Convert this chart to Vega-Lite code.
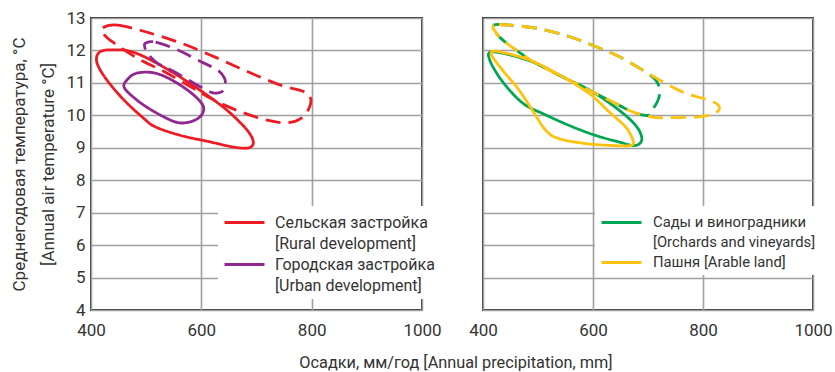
{
  "$schema": "https://vega.github.io/schema/vega-lite/v6.json",
  "padding": {"left": 9, "top": 8, "right": 0, "bottom": 0},
  "background": "white",
  "bounds": "flush",
  "spacing": 61,
  "config": {
    "font": "Roboto",
    "view": {"stroke": "#333333", "strokeWidth": 2},
    "axis": {
      "grid": true, "gridColor": "#a0a0a0", "gridWidth": 1.6,
      "domain": false, "ticks": false, "labelFlush": false,
      "labelFont": "Roboto", "labelFontSize": 17, "labelColor": "#333333",
      "titleFont": "Roboto", "titleFontSize": 17, "titleFontWeight": "normal", "titleColor": "#333333"
    },
    "legend": {
      "labelFont": "Roboto", "labelFontSize": 16, "labelColor": "#333333",
      "labelLimit": 400, "fillColor": "white", "symbolType": "M-1,0L3,0", "symbolSize": 400,
      "symbolStrokeWidth": 3, "labelOffset": 29, "rowPadding": 1, "labelBaseline": "middle", "padding": 5
    }
  },
  "resolve": {"scale": {"color": "independent", "strokeDash": "independent"}, "legend": {"color": "independent"}},
  "datasets": {
    "left": [
      {"cat": "Сельская застройка", "kind": "solid", "i": 0, "x": 417.5, "y": 11.97},
      {"cat": "Сельская застройка", "kind": "solid", "i": 1, "x": 447.7, "y": 12.02},
      {"cat": "Сельская застройка", "kind": "solid", "i": 2, "x": 471.9, "y": 11.97},
      {"cat": "Сельская застройка", "kind": "solid", "i": 3, "x": 502.1, "y": 11.76},
      {"cat": "Сельская застройка", "kind": "solid", "i": 4, "x": 550.4, "y": 11.30},
      {"cat": "Сельская застройка", "kind": "solid", "i": 5, "x": 592.7, "y": 10.83},
      {"cat": "Сельская застройка", "kind": "solid", "i": 6, "x": 622.9, "y": 10.47},
      {"cat": "Сельская застройка", "kind": "solid", "i": 7, "x": 653.1, "y": 10.06},
      {"cat": "Сельская застройка", "kind": "solid", "i": 8, "x": 683.3, "y": 9.54},
      {"cat": "Сельская застройка", "kind": "solid", "i": 9, "x": 694.2, "y": 9.18},
      {"cat": "Сельская застройка", "kind": "solid", "i": 10, "x": 686.4, "y": 9.00},
      {"cat": "Сельская застройка", "kind": "solid", "i": 11, "x": 659.2, "y": 9.02},
      {"cat": "Сельская застройка", "kind": "solid", "i": 12, "x": 610.9, "y": 9.20},
      {"cat": "Сельская застройка", "kind": "solid", "i": 13, "x": 562.5, "y": 9.38},
      {"cat": "Сельская застройка", "kind": "solid", "i": 14, "x": 517.2, "y": 9.64},
      {"cat": "Сельская застройка", "kind": "solid", "i": 15, "x": 496.1, "y": 9.90},
      {"cat": "Сельская застройка", "kind": "solid", "i": 16, "x": 459.9, "y": 10.47},
      {"cat": "Сельская застройка", "kind": "solid", "i": 17, "x": 426.6, "y": 11.14},
      {"cat": "Сельская застройка", "kind": "solid", "i": 18, "x": 410.3, "y": 11.66},

      {"cat": "Сельская застройка", "kind": "dashed", "i": 0, "x": 420.5, "y": 12.69},
      {"cat": "Сельская застройка", "kind": "dashed", "i": 1, "x": 447.7, "y": 12.78},
      {"cat": "Сельская застройка", "kind": "dashed", "i": 2, "x": 502.0, "y": 12.56},
      {"cat": "Сельская застройка", "kind": "dashed", "i": 3, "x": 562.5, "y": 12.23},
      {"cat": "Сельская застройка", "kind": "dashed", "i": 4, "x": 622.9, "y": 11.81},
      {"cat": "Сельская застройка", "kind": "dashed", "i": 5, "x": 683.3, "y": 11.35},
      {"cat": "Сельская застройка", "kind": "dashed", "i": 6, "x": 743.6, "y": 10.93},
      {"cat": "Сельская застройка", "kind": "dashed", "i": 7, "x": 785.9, "y": 10.73},
      {"cat": "Сельская застройка", "kind": "dashed", "i": 8, "x": 798.0, "y": 10.52},
      {"cat": "Сельская застройка", "kind": "dashed", "i": 9, "x": 795.0, "y": 10.21},
      {"cat": "Сельская застройка", "kind": "dashed", "i": 10, "x": 780.0, "y": 9.90},
      {"cat": "Сельская застройка", "kind": "dashed", "i": 11, "x": 755.8, "y": 9.77},
      {"cat": "Сельская застройка", "kind": "dashed", "i": 12, "x": 719.5, "y": 9.85},
      {"cat": "Сельская застройка", "kind": "dashed", "i": 13, "x": 671.2, "y": 10.11},
      {"cat": "Сельская застройка", "kind": "dashed", "i": 14, "x": 622.9, "y": 10.47},
      {"cat": "Сельская застройка", "kind": "dashed", "i": 15, "x": 580.7, "y": 10.88},
      {"cat": "Сельская застройка", "kind": "dashed", "i": 16, "x": 532.3, "y": 11.35},
      {"cat": "Сельская застройка", "kind": "dashed", "i": 17, "x": 484.0, "y": 11.76},
      {"cat": "Сельская застройка", "kind": "dashed", "i": 18, "x": 441.7, "y": 12.23},
      {"cat": "Сельская застройка", "kind": "dashed", "i": 19, "x": 423.6, "y": 12.49},

      {"cat": "Городская застройка", "kind": "solid", "i": 0, "x": 462.8, "y": 11.04},
      {"cat": "Городская застройка", "kind": "solid", "i": 1, "x": 477.9, "y": 11.27},
      {"cat": "Городская застройка", "kind": "solid", "i": 2, "x": 502.1, "y": 11.33},
      {"cat": "Городская застройка", "kind": "solid", "i": 3, "x": 526.2, "y": 11.25},
      {"cat": "Городская застройка", "kind": "solid", "i": 4, "x": 556.5, "y": 10.99},
      {"cat": "Городская застройка", "kind": "solid", "i": 5, "x": 586.6, "y": 10.62},
      {"cat": "Городская застройка", "kind": "solid", "i": 6, "x": 603.5, "y": 10.28},
      {"cat": "Городская застройка", "kind": "solid", "i": 7, "x": 600.0, "y": 10.00},
      {"cat": "Городская застройка", "kind": "solid", "i": 8, "x": 583.6, "y": 9.82},
      {"cat": "Городская застройка", "kind": "solid", "i": 9, "x": 559.5, "y": 9.77},
      {"cat": "Городская застройка", "kind": "solid", "i": 10, "x": 532.3, "y": 9.95},
      {"cat": "Городская застройка", "kind": "solid", "i": 11, "x": 496.0, "y": 10.31},
      {"cat": "Городская застройка", "kind": "solid", "i": 12, "x": 468.9, "y": 10.68},
      {"cat": "Городская застройка", "kind": "solid", "i": 13, "x": 459.9, "y": 10.88},

      {"cat": "Городская застройка", "kind": "dashed", "i": 0, "x": 499.0, "y": 12.23},
      {"cat": "Городская застройка", "kind": "dashed", "i": 1, "x": 517.2, "y": 12.26},
      {"cat": "Городская застройка", "kind": "dashed", "i": 2, "x": 556.5, "y": 12.02},
      {"cat": "Городская застройка", "kind": "dashed", "i": 3, "x": 598.8, "y": 11.66},
      {"cat": "Городская застройка", "kind": "dashed", "i": 4, "x": 629.0, "y": 11.40},
      {"cat": "Городская застройка", "kind": "dashed", "i": 5, "x": 642.2, "y": 11.14},
      {"cat": "Городская застройка", "kind": "dashed", "i": 6, "x": 642.8, "y": 10.86},
      {"cat": "Городская застройка", "kind": "dashed", "i": 7, "x": 635.0, "y": 10.71},
      {"cat": "Городская застройка", "kind": "dashed", "i": 8, "x": 619.9, "y": 10.70},
      {"cat": "Городская застройка", "kind": "dashed", "i": 9, "x": 592.7, "y": 10.93},
      {"cat": "Городская застройка", "kind": "dashed", "i": 10, "x": 550.4, "y": 11.35},
      {"cat": "Городская застройка", "kind": "dashed", "i": 11, "x": 520.2, "y": 11.61},
      {"cat": "Городская застройка", "kind": "dashed", "i": 12, "x": 502.1, "y": 11.92},
      {"cat": "Городская застройка", "kind": "dashed", "i": 13, "x": 497.3, "y": 12.12}
    ],
    "right": [
      {"cat": "Сады и виноградники", "kind": "solid", "i": 0, "x": 413.9, "y": 11.95},
      {"cat": "Сады и виноградники", "kind": "solid", "i": 1, "x": 447.3, "y": 11.87},
      {"cat": "Сады и виноградники", "kind": "solid", "i": 2, "x": 495.8, "y": 11.61},
      {"cat": "Сады и виноградники", "kind": "solid", "i": 3, "x": 544.2, "y": 11.19},
      {"cat": "Сады и виноградники", "kind": "solid", "i": 4, "x": 598.8, "y": 10.73},
      {"cat": "Сады и виноградники", "kind": "solid", "i": 5, "x": 647.3, "y": 10.16},
      {"cat": "Сады и виноградники", "kind": "solid", "i": 6, "x": 677.6, "y": 9.69},
      {"cat": "Сады и виноградники", "kind": "solid", "i": 7, "x": 688.5, "y": 9.33},
      {"cat": "Сады и виноградники", "kind": "solid", "i": 8, "x": 684.9, "y": 9.13},
      {"cat": "Сады и виноградники", "kind": "solid", "i": 9, "x": 671.5, "y": 9.07},
      {"cat": "Сады и виноградники", "kind": "solid", "i": 10, "x": 647.3, "y": 9.18},
      {"cat": "Сады и виноградники", "kind": "solid", "i": 11, "x": 604.8, "y": 9.38},
      {"cat": "Сады и виноградники", "kind": "solid", "i": 12, "x": 556.4, "y": 9.69},
      {"cat": "Сады и виноградники", "kind": "solid", "i": 13, "x": 507.9, "y": 10.06},
      {"cat": "Сады и виноградники", "kind": "solid", "i": 14, "x": 477.6, "y": 10.31},
      {"cat": "Сады и виноградники", "kind": "solid", "i": 15, "x": 453.4, "y": 10.68},
      {"cat": "Сады и виноградники", "kind": "solid", "i": 16, "x": 429.1, "y": 11.19},
      {"cat": "Сады и виноградники", "kind": "solid", "i": 17, "x": 412.1, "y": 11.71},

      {"cat": "Сады и виноградники", "kind": "dashed", "i": 0, "x": 418.2, "y": 12.74},
      {"cat": "Сады и виноградники", "kind": "dashed", "i": 1, "x": 429.1, "y": 12.80},
      {"cat": "Сады и виноградники", "kind": "dashed", "i": 2, "x": 495.8, "y": 12.69},
      {"cat": "Сады и виноградники", "kind": "dashed", "i": 3, "x": 556.4, "y": 12.43},
      {"cat": "Сады и виноградники", "kind": "dashed", "i": 4, "x": 604.8, "y": 12.12},
      {"cat": "Сады и виноградники", "kind": "dashed", "i": 5, "x": 647.3, "y": 11.81},
      {"cat": "Сады и виноградники", "kind": "dashed", "i": 6, "x": 689.7, "y": 11.40},
      {"cat": "Сады и виноградники", "kind": "dashed", "i": 7, "x": 713.9, "y": 11.09},
      {"cat": "Сады и виноградники", "kind": "dashed", "i": 8, "x": 721.2, "y": 10.78},
      {"cat": "Сады и виноградники", "kind": "dashed", "i": 9, "x": 718.8, "y": 10.49},
      {"cat": "Сады и виноградники", "kind": "dashed", "i": 10, "x": 710.9, "y": 10.24},
      {"cat": "Сады и виноградники", "kind": "dashed", "i": 11, "x": 701.8, "y": 10.00},
      {"cat": "Сады и виноградники", "kind": "dashed", "i": 12, "x": 671.5, "y": 10.11},
      {"cat": "Сады и виноградники", "kind": "dashed", "i": 13, "x": 629.1, "y": 10.47},
      {"cat": "Сады и виноградники", "kind": "dashed", "i": 14, "x": 586.7, "y": 10.83},
      {"cat": "Сады и виноградники", "kind": "dashed", "i": 15, "x": 544.2, "y": 11.19},
      {"cat": "Сады и виноградники", "kind": "dashed", "i": 16, "x": 495.8, "y": 11.61},
      {"cat": "Сады и виноградники", "kind": "dashed", "i": 17, "x": 459.4, "y": 12.02},
      {"cat": "Сады и виноградники", "kind": "dashed", "i": 18, "x": 432.1, "y": 12.38},
      {"cat": "Сады и виноградники", "kind": "dashed", "i": 19, "x": 420.0, "y": 12.64},

      {"cat": "Пашня [Arable land]", "kind": "solid", "i": 0, "x": 417.0, "y": 11.97},
      {"cat": "Пашня [Arable land]", "kind": "solid", "i": 1, "x": 435.2, "y": 11.94},
      {"cat": "Пашня [Arable land]", "kind": "solid", "i": 2, "x": 483.6, "y": 11.71},
      {"cat": "Пашня [Arable land]", "kind": "solid", "i": 3, "x": 538.2, "y": 11.25},
      {"cat": "Пашня [Arable land]", "kind": "solid", "i": 4, "x": 592.7, "y": 10.68},
      {"cat": "Пашня [Arable land]", "kind": "solid", "i": 5, "x": 629.1, "y": 10.11},
      {"cat": "Пашня [Arable land]", "kind": "solid", "i": 6, "x": 659.4, "y": 9.64},
      {"cat": "Пашня [Arable land]", "kind": "solid", "i": 7, "x": 672.7, "y": 9.23},
      {"cat": "Пашня [Arable land]", "kind": "solid", "i": 8, "x": 668.5, "y": 9.07},
      {"cat": "Пашня [Arable land]", "kind": "solid", "i": 9, "x": 635.1, "y": 9.07},
      {"cat": "Пашня [Arable land]", "kind": "solid", "i": 10, "x": 586.7, "y": 9.13},
      {"cat": "Пашня [Arable land]", "kind": "solid", "i": 11, "x": 538.2, "y": 9.28},
      {"cat": "Пашня [Arable land]", "kind": "solid", "i": 12, "x": 514.0, "y": 9.54},
      {"cat": "Пашня [Arable land]", "kind": "solid", "i": 13, "x": 489.7, "y": 10.16},
      {"cat": "Пашня [Arable land]", "kind": "solid", "i": 14, "x": 465.5, "y": 10.78},
      {"cat": "Пашня [Arable land]", "kind": "solid", "i": 15, "x": 435.2, "y": 11.40},
      {"cat": "Пашня [Arable land]", "kind": "solid", "i": 16, "x": 417.0, "y": 11.81},

      {"cat": "Пашня [Arable land]", "kind": "dashed", "i": 0, "x": 418.2, "y": 12.74},
      {"cat": "Пашня [Arable land]", "kind": "dashed", "i": 1, "x": 429.1, "y": 12.80},
      {"cat": "Пашня [Arable land]", "kind": "dashed", "i": 2, "x": 495.8, "y": 12.69},
      {"cat": "Пашня [Arable land]", "kind": "dashed", "i": 3, "x": 556.4, "y": 12.43},
      {"cat": "Пашня [Arable land]", "kind": "dashed", "i": 4, "x": 604.8, "y": 12.12},
      {"cat": "Пашня [Arable land]", "kind": "dashed", "i": 5, "x": 647.3, "y": 11.81},
      {"cat": "Пашня [Arable land]", "kind": "dashed", "i": 6, "x": 689.7, "y": 11.40},
      {"cat": "Пашня [Arable land]", "kind": "dashed", "i": 7, "x": 726.1, "y": 11.04},
      {"cat": "Пашня [Arable land]", "kind": "dashed", "i": 8, "x": 768.5, "y": 10.68},
      {"cat": "Пашня [Arable land]", "kind": "dashed", "i": 9, "x": 810.9, "y": 10.47},
      {"cat": "Пашня [Arable land]", "kind": "dashed", "i": 10, "x": 827.9, "y": 10.31},
      {"cat": "Пашня [Arable land]", "kind": "dashed", "i": 11, "x": 826.0, "y": 10.11},
      {"cat": "Пашня [Arable land]", "kind": "dashed", "i": 12, "x": 798.8, "y": 9.97},
      {"cat": "Пашня [Arable land]", "kind": "dashed", "i": 13, "x": 750.3, "y": 9.93},
      {"cat": "Пашня [Arable land]", "kind": "dashed", "i": 14, "x": 714.0, "y": 9.93},
      {"cat": "Пашня [Arable land]", "kind": "dashed", "i": 15, "x": 701.8, "y": 9.97},
      {"cat": "Пашня [Arable land]", "kind": "dashed", "i": 16, "x": 671.5, "y": 10.11},
      {"cat": "Пашня [Arable land]", "kind": "dashed", "i": 17, "x": 629.1, "y": 10.47},
      {"cat": "Пашня [Arable land]", "kind": "dashed", "i": 18, "x": 586.7, "y": 10.83},
      {"cat": "Пашня [Arable land]", "kind": "dashed", "i": 19, "x": 544.2, "y": 11.19},
      {"cat": "Пашня [Arable land]", "kind": "dashed", "i": 20, "x": 495.8, "y": 11.61},
      {"cat": "Пашня [Arable land]", "kind": "dashed", "i": 21, "x": 459.4, "y": 12.02},
      {"cat": "Пашня [Arable land]", "kind": "dashed", "i": 22, "x": 432.1, "y": 12.38},
      {"cat": "Пашня [Arable land]", "kind": "dashed", "i": 23, "x": 420.0, "y": 12.64}
    ]
  },
  "hconcat": [
    {
      "width": 331,
      "height": 292,
      "data": {"name": "left"},
      "mark": {"type": "line", "interpolate": "cardinal-closed", "strokeWidth": 2.8},
      "encoding": {
        "x": {
          "field": "x", "type": "quantitative",
          "scale": {"domain": [400, 1000], "nice": false, "zero": false},
          "axis": {
            "values": [400, 600, 800, 1000], "format": "d", "labelPadding": 12,
            "title": "Осадки, мм/год [Annual precipitation, mm]", "titleFontSize": 16.3,
            "titleX": 364.5, "titleY": 57, "titleBaseline": "alphabetic", "titleAlign": "center"
          }
        },
        "y": {
          "field": "y", "type": "quantitative",
          "scale": {"domain": [4, 13], "nice": false, "zero": false},
          "axis": {
            "values": [4, 5, 6, 7, 8, 9, 10, 11, 12, 13], "labelPadding": 6,
            "title": ["Среднегодовая температура, °C", "[Annual air temperature °C]"],
            "titleLineHeight": 29, "titlePadding": 8
          }
        },
        "color": {
          "field": "cat", "type": "nominal",
          "scale": {
            "domain": ["Сельская застройка", "[Rural development]", "Городская застройка", "[Urban development]"],
            "range": ["#ed1c24", "transparent", "#92278f", "transparent"]
          },
          "legend": {"orient": "none", "legendX": 127, "legendY": 188, "title": null, "labelOffset": 29}
        },
        "strokeDash": {
          "field": "kind", "type": "nominal",
          "scale": {"domain": ["solid", "dashed"], "range": [[1, 0], [15, 8]]},
          "legend": null
        },
        "order": {"field": "i", "type": "quantitative"}
      }
    },
    {
      "width": 330,
      "height": 292,
      "data": {"name": "right"},
      "mark": {"type": "line", "interpolate": "cardinal-closed", "strokeWidth": 2.8},
      "encoding": {
        "x": {
          "field": "x", "type": "quantitative",
          "scale": {"domain": [400, 1000], "nice": false, "zero": false},
          "axis": {"values": [400, 600, 800, 1000], "format": "d", "labelPadding": 12, "title": null}
        },
        "y": {
          "field": "y", "type": "quantitative",
          "scale": {"domain": [4, 13], "nice": false, "zero": false},
          "axis": {"values": [4, 5, 6, 7, 8, 9, 10, 11, 12, 13], "labels": false, "title": null}
        },
        "color": {
          "field": "cat", "type": "nominal",
          "scale": {
            "domain": ["Сады и виноградники", "[Orchards and vineyards]", "Пашня [Arable land]"],
            "range": ["#00a651", "transparent", "#ffc20e"]
          },
          "legend": {"orient": "none", "legendX": 112, "legendY": 188, "title": null, "labelOffset": 30, "labelFontSize": 14.8}
        },
        "strokeDash": {
          "field": "kind", "type": "nominal",
          "scale": {"domain": ["solid", "dashed"], "range": [[1, 0], [15, 8]]},
          "legend": null
        },
        "order": {"field": "i", "type": "quantitative"}
      }
    }
  ]
}
